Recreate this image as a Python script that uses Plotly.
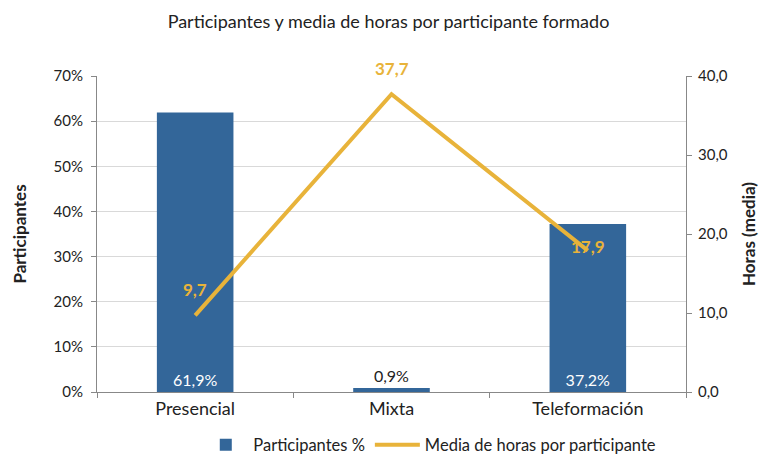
import plotly.graph_objects as go

categorias = ['Presencial', 'Mixta', 'Teleformación']
participantes = [0.619, 0.009, 0.372]
horas_media = [9.7, 37.7, 17.9]

# posicion de las etiquetas de la linea (desplazamientos en px)
etiqueta_dx = [0, 0, 0]
etiqueta_dy = [26, 26, 4]

AZUL = '#336699'
AMARILLO = '#E8B33A'
FUENTE = 'Lato, Open Sans, sans-serif'

fig = go.Figure()

fig.add_trace(go.Bar(
    x=categorias,
    y=participantes,
    name='Participantes %',
    marker=dict(color=AZUL, line=dict(width=0)),
    width=0.39,
    texttemplate='%{y:.1%}',
    textposition=['inside', 'outside', 'inside'],
    insidetextanchor='start',
    insidetextfont=dict(color='white', size=16, family=FUENTE),
    outsidetextfont=dict(color='#222222', size=16, family=FUENTE),
    cliponaxis=False,
))

fig.add_trace(go.Scatter(
    x=categorias,
    y=horas_media,
    name='Media de horas por participante',
    mode='lines',
    line=dict(color=AMARILLO, width=4),
    yaxis='y2',
))

for c, h, dx, dy in zip(categorias, horas_media, etiqueta_dx, etiqueta_dy):
    fig.add_annotation(
        x=c, y=h, yref='y2', xshift=dx, yshift=dy,
        text='<b>' + f'{h:.1f}'.replace('.', ',') + '</b>',
        showarrow=False,
        font=dict(color=AMARILLO, size=17, family=FUENTE),
    )

# la pagina tiene 8px de margen en el body
fig.update_layout(
    width=761, height=449,
    margin=dict(l=89, r=83, t=68, b=65, autoexpand=False),
    plot_bgcolor='white',
    paper_bgcolor='white',
    separators=',.',
    font=dict(family=FUENTE, size=15, color='#222222'),
    title=dict(text='Participantes y media de horas por participante formado',
               x=0.5, xanchor='center', y=0.97, yanchor='middle',
               font=dict(size=18, color='#222222')),
    showlegend=True,
    legend=dict(orientation='h', x=0.565, xanchor='center', y=-0.168, yanchor='middle',
                font=dict(size=16.5), traceorder='normal', itemwidth=45),
    xaxis=dict(
        automargin=False,
        showline=True, linecolor='#888888', linewidth=1,
        ticks='outside', tickson='boundaries', tickcolor='#888888', ticklen=5,
        tickfont=dict(size=18),
    ),
    yaxis=dict(
        automargin=False,
        range=[0, 0.7], dtick=0.1, tickformat='.0%',
        showgrid=True, gridcolor='#D9D9D9', gridwidth=1,
        showline=True, linecolor='#888888', linewidth=1,
        ticks='outside', tickcolor='#888888', ticklen=5,
        ticklabelstandoff=5,
        zeroline=False,
        title=dict(text='<b>Participantes</b>', font=dict(size=17), standoff=22),
    ),
    yaxis2=dict(
        automargin=False,
        overlaying='y', side='right',
        range=[0, 40], dtick=10, tickformat='.1f',
        showgrid=False,
        showline=True, linecolor='#888888', linewidth=1,
        ticks='outside', tickcolor='#888888', ticklen=5,
        ticklabelstandoff=3,
        zeroline=False,
        title=dict(text='<b>Horas (media)</b>', font=dict(size=17), standoff=16),
    ),
    bargap=0.61,
)

fig.write_html('out.html')
